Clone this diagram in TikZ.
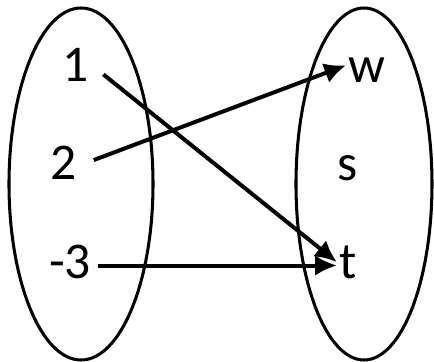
\documentclass[tikz,border=0pt]{standalone}
\usepackage{fontspec}
\setmainfont{Carlito}
\usetikzlibrary{arrows.meta}

\begin{document}
\begin{tikzpicture}[
    x=0.03cm, y=-0.03cm,
    setbox/.style={draw=black, line width=2.6pt},
    elem/.style={inner sep=2pt, font=\fontsize{44}{50}\selectfont},
    arrow/.style={-{Latex[length=0.65cm, width=0.62cm]}, line width=3.4pt}
]
\useasboundingbox (0,0) rectangle (434,362);

% Domain and codomain
\draw[setbox] (81,184) ellipse [x radius=72, y radius=176];
\draw[setbox] (364,184) ellipse [x radius=68, y radius=176];

% Elements
\node[elem] (one)    at (76,65)   {1};
\node[elem] (two)    at (64,163)  {2};
\node[elem] (mthree) at (70,262)  {-3};
\node[elem] (w)      at (367,70)  {w};
\node[elem] (s)      at (348,168) {s};
\node[elem] (t)      at (348,262) {t};

% Mapping
\draw[arrow, shorten <=0.45cm] (one.east) -- (t.west);
\draw[arrow, shorten <=0.45cm] ([yshift=-2pt]two.east) -- ([yshift=4pt]w.west);
\draw[arrow, shorten <=0.12cm] ([yshift=-3pt]mthree.east) -- ([yshift=-3pt]t.west);

\end{tikzpicture}
\end{document}
